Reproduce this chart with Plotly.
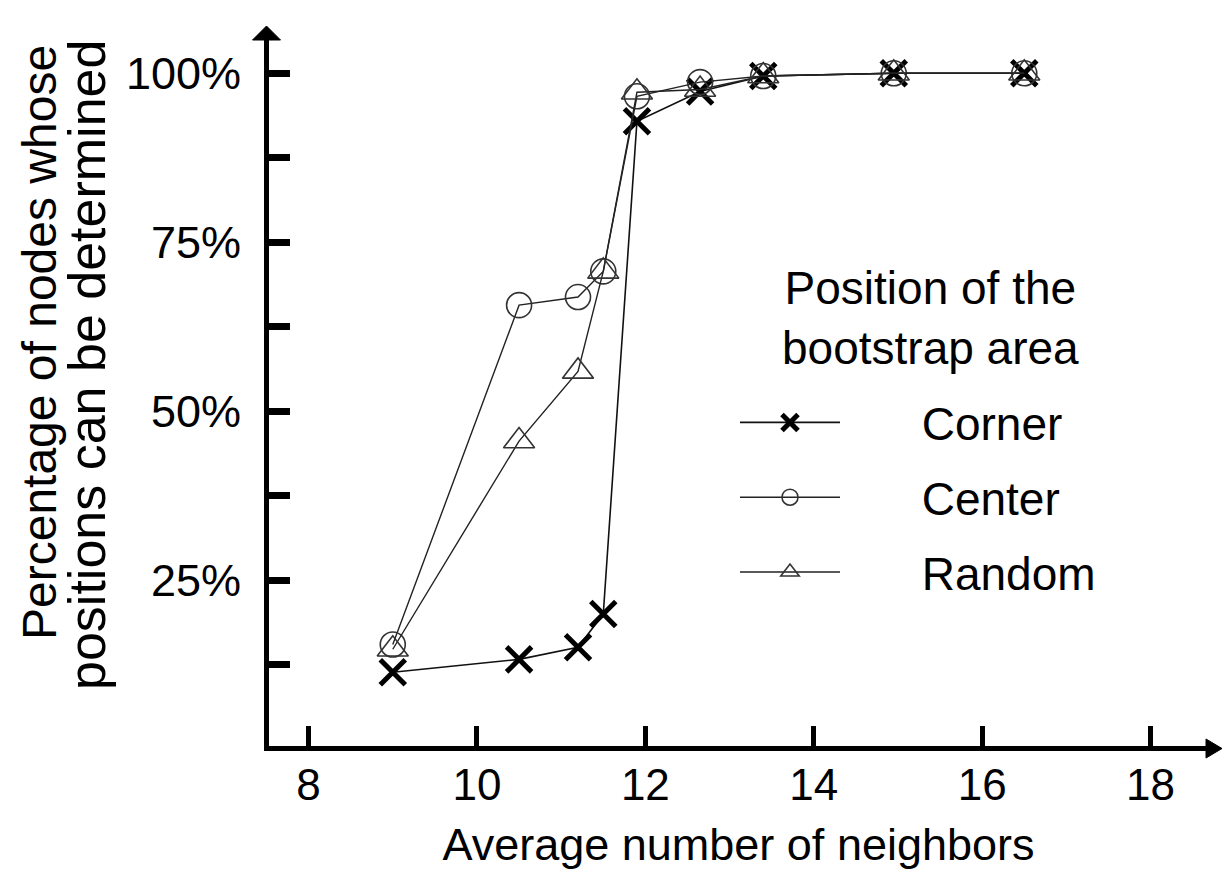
import plotly.graph_objects as go

# ---- data ----
neighbors = [9.0, 10.5, 11.2, 11.5, 11.9, 12.65, 13.4, 14.95, 16.5]
corner = [11.4, 13.3, 15.1, 20.0, 92.9, 97.3, 99.6, 100.0, 100.0]
center = [15.5, 65.7, 66.9, 70.7, 96.6, 98.7, 99.6, 100.0, 100.0]
random_area = [14.8, 45.6, 55.9, 70.7, 97.2, 97.6, 99.6, 100.0, 100.0]
series_names = ["Corner", "Center", "Random"]

x_tick_vals = [8, 10, 12, 14, 16, 18]
y_tick_vals = [12.5, 25, 37.5, 50, 62.5, 75, 87.5, 100]
y_tick_text = ["", "25%", "", "50%", "", "75%", "", "100%"]

x_title = "Average number of neighbors"
y_title_lines = ["Percentage of nodes whose", "positions can be determined"]
legend_title = "Position of the<br>bootstrap area"

SANS = "Liberation Sans, Arial, Helvetica, sans-serif"
PAD = "\u00a0" * 6  # gap between legend sample and label

# plot-area geometry (pixels)
W, H = 1222, 876
L, R, T, B = 269, 1208, 40, 746
x_range = [7.53, 7.53 + (R - L) / 84.2]
y_range = [(749.3 - B) / 6.76, (749.3 - T) / 6.76]

fig = go.Figure()
fig.add_trace(go.Scatter(
    x=neighbors, y=corner, name=PAD + series_names[0], mode="lines+markers",
    legendgroup="g1",
    line=dict(color="#111111", width=1.6),
    marker=dict(symbol="x-thin", size=25, color="black",
                line=dict(color="black", width=5)),
))
fig.add_trace(go.Scatter(
    x=neighbors, y=center, name=PAD + series_names[1], mode="lines+markers",
    legendgroup="g2",
    line=dict(color="#222222", width=1.4),
    marker=dict(symbol="circle-open", size=25, color="#333333",
                line=dict(color="#333333", width=1.6)),
))
fig.add_trace(go.Scatter(
    x=neighbors, y=random_area, name=PAD + series_names[2], mode="lines+markers",
    legendgroup="g3",
    line=dict(color="#222222", width=1.4),
    marker=dict(symbol="triangle-up-open", size=27, color="#333333",
                line=dict(color="#333333", width=1.6)),
))

fig.update_layout(
    width=W, height=H,
    margin=dict(l=L, r=W - R, t=T, b=H - B, pad=0, autoexpand=False),
    paper_bgcolor="white", plot_bgcolor="white",
    font=dict(family=SANS, size=46, color="black"),
    showlegend=True,
    legend=dict(
        x=(735 - L) / (R - L), y=(B - 386) / (B - T),
        xanchor="left", yanchor="top",
        bgcolor="rgba(0,0,0,0)",
        font=dict(family=SANS, size=46, color="black"),
        itemwidth=100, traceorder="grouped", tracegroupgap=12,
        itemsizing="trace",
    ),
    xaxis=dict(
        range=x_range, showgrid=False, zeroline=False, automargin=False,
        showline=True, linecolor="black", linewidth=5,
        tickmode="array", tickvals=x_tick_vals,
        ticks="inside", ticklen=20, tickwidth=5, tickcolor="black",
        tickfont=dict(family=SANS, size=44, color="black"),
        ticklabelstandoff=-4,
        title=dict(text=x_title, standoff=22,
                   font=dict(family=SANS, size=45, color="black")),
    ),
    yaxis=dict(
        range=y_range, showgrid=False, zeroline=False, automargin=False,
        showline=True, linecolor="black", linewidth=5,
        tickmode="array", tickvals=y_tick_vals, ticktext=y_tick_text,
        ticks="inside", ticklen=21, tickwidth=7, tickcolor="black",
        tickfont=dict(family=SANS, size=45, color="black"),
        ticklabelstandoff=14,
    ),
)

# legend heading
fig.add_annotation(
    text=legend_title, xref="paper", yref="paper",
    x=(930 - L) / (R - L), y=(B - 318) / (B - T),
    xanchor="center", yanchor="middle", showarrow=False, align="center",
    font=dict(family=SANS, size=46, color="black"),
)

# two-line rotated y-axis title
for txt, cx, cy, fs in [(y_title_lines[0], 39, 343, 48),
                        (y_title_lines[1], 87, 365, 52)]:
    fig.add_annotation(
        text=txt, xref="paper", yref="paper",
        x=(cx - L) / (R - L), y=(B - cy) / (B - T),
        xanchor="center", yanchor="middle", textangle=-90, showarrow=False,
        font=dict(family=SANS, size=fs, color="black"),
    )

# arrow heads at the axis ends (decoration)
fig.add_shape(type="path", xref="paper", yref="paper",
              xsizemode="pixel", ysizemode="pixel", xanchor=1, yanchor=0,
              path="M -2,-12 L 14,-2.5 L -2,7 Z",
              fillcolor="black", line=dict(color="black", width=1))
fig.add_shape(type="path", xref="paper", yref="paper",
              xsizemode="pixel", ysizemode="pixel", xanchor=0, yanchor=1,
              path="M -16.5,0 L -2.5,14 L 11.5,0 Z",
              fillcolor="black", line=dict(color="black", width=1))

fig.write_html(
    "out.html",
    config={"displayModeBar": False},
    post_script="document.body.style.margin='0';document.body.style.overflow='hidden';",
)
